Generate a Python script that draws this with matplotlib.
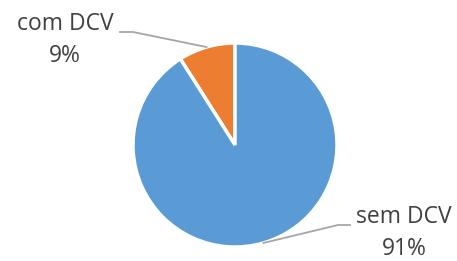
import matplotlib.pyplot as plt
import numpy as np

labels = ["com DCV", "sem DCV"]
values = [9, 91]
colors = ["#ED7D31", "#5B9BD5"]

W, H = 457, 261
fig = plt.figure(figsize=(W / 100, H / 100), dpi=100)

# pie centre and radius in pixels
cx, cy, r = 235, 145, 102
ax = fig.add_axes([(cx - r) / W, (H - cy - r) / H, 2 * r / W, 2 * r / H])
wedges, _ = ax.pie(values, colors=colors, startangle=90, counterclock=True,
                   radius=1, wedgeprops=dict(edgecolor="white", linewidth=2.5))
ax.set_xlim(-1, 1)
ax.set_ylim(-1, 1)
ax.set_aspect("equal")
ax.axis("off")

# label positions (pixels from top-left): text centre, elbow start, elbow end
label_pos = [((65, 40), (120, 32), (133, 32)),
             ((404, 233), (350, 225), (338, 225))]

def px(x, y):
    return x / W, 1 - y / H

total = sum(values)
start = 90.0
for i, (lab, v) in enumerate(zip(labels, values)):
    mid = np.deg2rad(start + 360 * v / total / 2)
    start += 360 * v / total
    ex = cx + r * np.cos(mid)
    ey = cy - r * np.sin(mid)
    tpos, p1, p2 = label_pos[i]
    xs = [p1[0], p2[0], ex]
    ys = [p1[1], p2[1], ey]
    fig.add_artist(plt.Line2D([x / W for x in xs], [1 - y / H for y in ys],
                              color="#A6A6A6", lw=1.3))
    fig.text(*px(*tpos), f"{lab}\n{v}%", ha="center", va="center",
             fontsize=16.5, family="Open Sans", color="#404040", linespacing=1.45)

fig.savefig("out.png", dpi=100)
